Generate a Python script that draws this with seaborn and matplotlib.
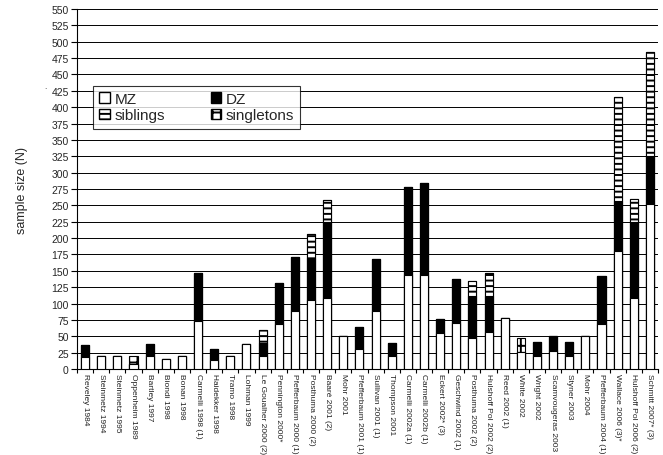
import numpy as np
import pandas as pd
import matplotlib
matplotlib.use("Agg")
import matplotlib.pyplot as plt
from matplotlib.patches import Patch
import seaborn as sns

studies = ["Reveley 1984", "Steinmetz 1994", "Steinmetz 1995", "Oppenheim 1989",
           "Bartley 1997", "Biondi 1998", "Bonan 1998", "Carmelli 1998 (1)",
           "Haidekker 1998", "Tramo 1998", "Lohman 1999", "Le Goualher 2000 (2)",
           "Pennington 2000*", "Pfefferbaum 2000 (1)", "Posthuma 2000 (2)",
           "Baaré 2001 (2)", "Mohr 2001", "Pfefferbaum 2001 (1)", "Sullivan 2001 (1)",
           "Thompson 2001", "Carmelli 2002a (1)", "Carmelli 2002b (1)",
           "Eckert 2002* (3)", "Geschwind 2002 (1)", "Posthuma 2002 (2)",
           "Hulshoff Pol 2002 (2)", "Reed 2002 (1)", "White 2002", "Wright 2002",
           "Scamvougeras 2003", "Styner 2003", "Mohr 2004", "Pfefferbaum 2004 (1)",
           "Wallace 2006 (3)*", "Hulshoff Pol 2006 (2)", "Schmitt 2007* (3)"]

mz = [18, 20, 20, 8, 20, 15, 20, 74, 14, 20, 38, 20, 68, 89, 105, 108, 50, 30, 88,
      20, 144, 144, 55, 70, 47, 56, 78, 26, 20, 28, 20, 50, 68, 180, 108, 252]
dz = [19, 0, 0, 0, 18, 0, 0, 72, 16, 0, 0, 20, 63, 82, 65, 116, 0, 34, 80,
      20, 134, 140, 22, 68, 65, 56, 0, 0, 22, 22, 22, 0, 74, 76, 116, 74]
siblings = [0, 0, 0, 0, 0, 0, 0, 0, 0, 0, 0, 20, 0, 0, 36, 34, 0, 0, 0,
            0, 0, 0, 0, 0, 23, 34, 0, 0, 0, 0, 0, 0, 0, 160, 36, 158]
singletons = [0, 0, 0, 12, 0, 0, 0, 0, 0, 0, 0, 0, 0, 0, 0, 0, 0, 0, 0,
              0, 0, 0, 0, 0, 0, 0, 0, 22, 0, 0, 0, 0, 0, 0, 0, 0]

y_ticks = list(range(0, 551, 25))

df = pd.DataFrame({"study": studies, "MZ": mz, "DZ": dz,
                   "siblings": siblings, "singletons": singletons})
df["c1"] = df["MZ"]
df["c2"] = df["c1"] + df["DZ"]
df["c3"] = df["c2"] + df["siblings"]
df["c4"] = df["c3"] + df["singletons"]

sns.set_style("white")
plt.rcParams["font.family"] = ["Liberation Sans", "DejaVu Sans"]
plt.rcParams["hatch.linewidth"] = 1.4
plt.rcParams["hatch.color"] = "black"

fig = plt.figure(figsize=(6.63, 4.56), dpi=100)
ax = fig.add_axes([77 / 663, 86 / 456, 581 / 663, 360 / 456])

layers = [("c4", "white", "++"), ("c3", "white", "---"), ("c2", "black", None), ("c1", "white", None)]
for col, fc, hatch in layers:
    kw = dict(hatch=hatch) if hatch else {}
    sns.barplot(data=df, x="study", y=col, order=studies, color=fc, saturation=1,
                edgecolor="black", linewidth=0.8, width=0.5, ax=ax, zorder=3, **kw)

ax.set_ylim(0, 550)
ax.set_xlim(-0.5, len(studies) - 0.5)
ax.set_yticks(y_ticks)
ax.set_yticklabels([str(t) for t in y_ticks], fontsize=7.5)
ax.yaxis.grid(True, color="black", linewidth=0.7, zorder=0)
ax.set_axisbelow(True)
ax.tick_params(axis="y", direction="out", length=4, width=0.8, color="black", left=True, pad=2)

ax.set_xticks(range(len(studies)))
ax.set_xticklabels(studies, rotation=270, fontsize=6, ha="center", va="top", color="#222222")
ax.tick_params(axis="x", length=0, pad=3)
ax.set_xticks(np.arange(len(studies) + 1) - 0.5, minor=True)
ax.tick_params(axis="x", which="minor", direction="out", length=3, width=0.8, color="black", bottom=True)

for s in ["top", "right"]:
    ax.spines[s].set_visible(False)
for s in ["left", "bottom"]:
    ax.spines[s].set_color("black")
    ax.spines[s].set_linewidth(0.8)

ax.set_xlabel("")
ax.set_ylabel("sample size (N)", fontsize=9, labelpad=17)

handles = [Patch(facecolor="white", edgecolor="black", label="MZ"),
           Patch(facecolor="white", edgecolor="black", hatch="---", label="siblings"),
           Patch(facecolor="black", edgecolor="black", label="DZ"),
           Patch(facecolor="white", edgecolor="black", hatch="++", label="singletons")]
leg = ax.legend(handles=handles, ncol=2, loc="upper left",
                bbox_to_anchor=(0.0275, 0.786), borderaxespad=0, fontsize=11,
                frameon=True, fancybox=False, handlelength=0.7, handleheight=0.7,
                handletextpad=0.3, columnspacing=3.0, labelspacing=0.15,
                borderpad=0.4)
leg.get_frame().set_edgecolor("black")
leg.get_frame().set_linewidth(0.8)
leg.set_zorder(5)

fig.text(45 / 663, 1 - 88 / 456, ".", fontsize=6, ha="center", va="center")

fig.savefig("out.png", dpi=100)
